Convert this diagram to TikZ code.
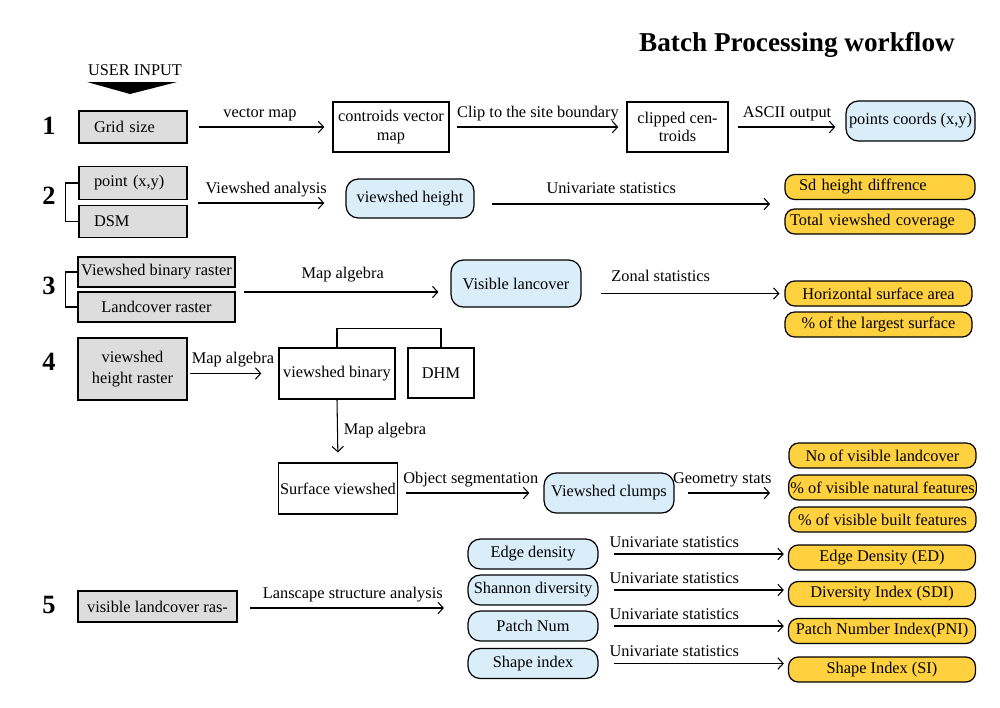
\documentclass[tikz,border=0pt]{standalone}
\usepackage{fontspec}
\setmainfont{Liberation Serif}
\usetikzlibrary{arrows.meta}
\definecolor{inputgray}{HTML}{DDDDDE}
\definecolor{midblue}{HTML}{DAEEF9}
\definecolor{outyellow}{HTML}{FFD13F}
\begin{document}
\begin{tikzpicture}[x=0.02cm,y=-0.02cm,
    font=\fontsize{9.3}{10.5}\selectfont,
    inbox/.style={draw,line width=0.7pt,fill=inputgray,inner xsep=1pt,inner ysep=1pt,align=center},
    leftin/.style={inbox,align=left,text width=1.56cm,inner xsep=0.3cm},
    plainbox/.style={draw,line width=0.7pt,fill=white,inner xsep=1pt,inner ysep=1pt,align=center},
    midbox/.style={draw,line width=0.7pt,fill=midblue,rounded corners=7pt,inner xsep=1pt,inner ysep=1pt,align=center},
    outbox/.style={draw,line width=0.7pt,fill=outyellow,rounded corners=5.5pt,inner xsep=1pt,inner ysep=1pt,minimum width=3.74cm,minimum height=0.5cm},
    stepnum/.style={font=\bfseries\fontsize{15}{15}\selectfont},
    flow/.style={-{Straight Barb[length=3pt,width=6.5pt]},line width=0.6pt},
    link/.style={line width=0.6pt}]
            \useasboundingbox (0,0) rectangle (1000,707);
            \node[font=\bfseries\fontsize{15.5}{18}\selectfont] (title) at (797,45) {Batch Processing workflow};
            \node (user) at (135,70) {USER INPUT};
            \fill (87,82) -- (177,82) -- (130,94) -- cycle;

            \node[stepnum] (n1) at (49,126) {1};
            \node[stepnum] (n2) at (49,196) {2};
            \node[stepnum] (n3) at (49,286) {3};
            \node[stepnum] (n4) at (49,362) {4};
            \node[stepnum] (n5) at (49,605) {5};

            \node[leftin, minimum height=0.64cm] (grid) at (133,127) {Grid size};
            \node[plainbox, minimum width=2.32cm, minimum height=1cm] (ctr) at (391,127) {controids vector\\map};
            \node[plainbox, minimum width=2.02cm, minimum height=1cm] (clip) at (677.5,127) {clipped cen-\\troids};
            \node[midbox, minimum width=2.58cm, minimum height=0.8cm] (pts) at (910.5,121) {points coords (x,y)};

            \draw[flow, shorten <=6.3pt, shorten >=4.6pt] (grid.east) -- node[above]{vector map} (ctr.west);
            \draw[flow, shorten <=4pt, shorten >=4.6pt] (ctr.east) -- node[above]{Clip to the site boundary} (clip.west);
            \draw[flow, shorten <=5.1pt, shorten >=5.7pt] (clip.east) -- node[above]{ASCII output} (clip.east -| pts.west);

            \node[leftin, minimum height=0.65cm] (pnt) at (133,183) {point (x,y)};
            \node[leftin, minimum height=0.65cm] (dsm) at (133,221.5) {DSM};
            \node[midbox, minimum width=2.56cm, minimum height=0.78cm] (vh) at (410,198.5) {viewshed height};
            \node[outbox, minimum width=3.8cm, align=left, text width=3.24cm, inner xsep=0.28cm] (sdh) at (880,187) {Sd height diffrence};
            \node[outbox, minimum width=3.8cm, align=left, text width=3.6cm, inner xsep=0.1cm] (tvc) at (880,221.5) {Total viewshed coverage};
            \coordinate (in2) at (187,203);
            \coordinate (to2) at (785,204);

            \draw[link] (pnt.west) -- ++(-13,0) |- (dsm.west);
            \draw[flow, shorten <=6.3pt, shorten >=12pt] (in2) -- node[above]{Viewshed analysis} (in2 -| vh.west);
            \draw[flow, shorten <=9.7pt, shorten >=8.5pt] (vh.east |- to2) -- node[above, pos=0.44, yshift=2pt]{Univariate statistics} (to2);

            \node[inbox, minimum width=3.14cm, minimum height=0.6cm] (vbr) at (156.5,272) {Viewshed binary raster};
            \node[inbox, minimum width=3.14cm, minimum height=0.6cm] (lcr) at (156.5,307) {Landcover raster};
            \node[midbox, minimum width=2.6cm, minimum height=0.94cm] (vl) at (516,283.5) {Visible lancover};
            \node[outbox] (hsa) at (878.5,293.5) {Horizontal surface area};
            \node[outbox] (lgs) at (878.5,324.5) {\% of the largest surface};
            \coordinate (in3) at (235,292);

            \draw[link] (vbr.west) -- ++(-12,0) |- (lcr.west);
            \draw[flow, shorten <=5.1pt, shorten >=6.8pt] (in3) -- node[above, yshift=2pt]{Map algebra} (in3 -| vl.west);
            \draw[flow, shorten <=10.8pt, shorten >=2.8pt] (vl.east |- hsa.west) -- node[above, pos=0.39, yshift=3pt]{Zonal statistics} (hsa.west);

            \node[inbox, minimum width=2.18cm, minimum height=1.24cm, font=\fontsize{9.3}{11.5}\selectfont] (vhr) at (132.5,369) {viewshed\\height raster};
            \node[plainbox, minimum width=2.32cm, minimum height=1.02cm] (vb) at (337,373.5) {viewshed binary};
            \node[plainbox, minimum width=1.32cm, minimum height=1cm] (dhm) at (441,373) {DHM};
            \node[plainbox, minimum width=2.36cm, minimum height=1.02cm] (sv) at (338,488.5) {Surface viewshed};
            \node[midbox, minimum width=2.6cm, minimum height=0.8cm] (vc) at (609,493) {Viewshed clumps};
            \node[outbox] (nvl) at (882.5,455.5) {No of visible landcover};
            \node[outbox] (nat) at (882.5,487.5) {\% of visible natural features};
            \node[outbox] (blt) at (882.5,519.5) {\% of visible built features};

            \draw[flow, shorten <=1.1pt, shorten >=9.7pt] (vhr.east |- vb.west) -- node[above]{Map algebra} (vb.west);
            \draw[link] (vb.north) -- ++(0,-19) -| (dhm.north);
            \draw[flow, shorten >=5.7pt] (vb.south) -- node[right]{Map algebra} (sv.north);
            \draw[flow, shorten <=4.6pt, shorten >=8pt] (sv.east |- vc.west) -- node[above]{Object segmentation} (vc.west);
            \draw[flow, shorten <=7.4pt, shorten >=10.2pt] (vc.east) -- node[above, pos=0.42]{Geometry stats} (vc.east -| nat.west);

            \node[inbox, minimum width=3.18cm, minimum height=0.62cm] (vlr) at (157.5,606.5) {visible landcover ras-};
            \node[midbox, minimum width=2.6cm, minimum height=0.6cm] (ed) at (533,554) {Edge density};
            \node[midbox, minimum width=2.6cm, minimum height=0.6cm] (shd) at (533,590) {Shannon diversity};
            \node[midbox, minimum width=2.6cm, minimum height=0.6cm] (pn) at (533,626) {Patch Num};
            \node[midbox, minimum width=2.6cm, minimum height=0.6cm] (si) at (533,663.5) {Shape index};
            \node[outbox] (edi) at (882,557.5) {Edge Density (ED)};
            \node[outbox] (sdi) at (882,594) {Diversity Index (SDI)};
            \node[outbox] (pni) at (882,631) {Patch Number Index(PNI)};
            \node[outbox] (sii) at (882,669.5) {Shape Index (SI)};
            \coordinate (to5) at (468,608);

            \draw[flow, shorten <=6.8pt, shorten >=13.7pt] (vlr.east |- to5) -- node[above]{Lanscape structure analysis} (to5);
            \foreach \a/\b in {ed/edi,shd/sdi,pn/pni,si/sii}
                \draw[flow, shorten <=8.5pt, shorten >=2.3pt] (\a.east) -- node[above, pos=0.4]{Univariate statistics} (\a.east -| \b.west);
\end{tikzpicture}
\end{document}
